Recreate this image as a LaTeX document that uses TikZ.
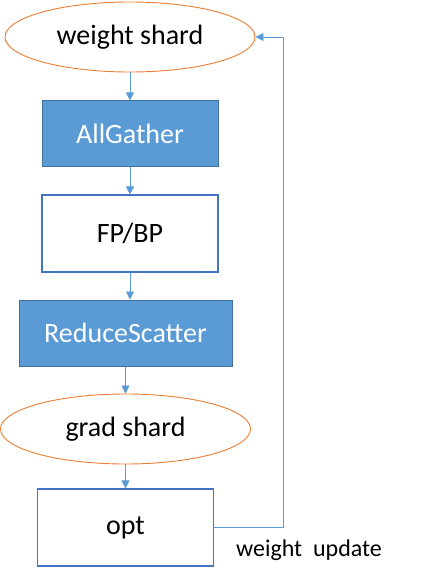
\documentclass[tikz,border=0pt]{standalone}
\usepackage{fontspec}
\setmainfont{Carlito}
\usepackage{xcolor}
\usetikzlibrary{arrows.meta, positioning, shapes.geometric, calc}

\definecolor{boxblue}{HTML}{5B9BD5}
\definecolor{boxedge}{HTML}{41719C}
\definecolor{lineblue}{HTML}{4472C4}
\definecolor{shardorange}{HTML}{ED7D31}

\begin{document}
\begin{tikzpicture}[
    x=1pt, y=1pt,
    node distance=27pt,
    every node/.style={font=\fontsize{28}{32}\selectfont},
    shard/.style={ellipse, draw=shardorange, line width=0.9pt, minimum width=250pt, minimum height=70pt},
    comm/.style={rectangle, draw=boxedge, line width=1pt, fill=boxblue, text=white, minimum height=66pt},
    work/.style={rectangle, draw=lineblue, line width=1.1pt, fill=white, minimum width=176pt, minimum height=77pt},
    arr/.style={-{Triangle[length=8pt, width=8pt]}, draw=boxblue, line width=0.7pt}
]
\useasboundingbox (0,0) rectangle (429,-581);

\node[shard] (ws) at (130,-37) {weight shard};
\node[comm, minimum width=176pt, below=28pt of ws] (ag) {AllGather};
\node[work, below=of ag] (fpbp) {FP/BP};
\node[comm, minimum width=213pt, below=of fpbp, xshift=-4.5pt] (rs) {ReduceScatter};
\node[shard, below=of rs] (gs) {grad shard};
\node[work, below=24pt of gs] (opt) {opt};

\node[font=\fontsize{24}{28}\selectfont] (upd) at (309,-550) {weight\ \ update};

\draw[arr] (ws) -- (ag);
\draw[arr] (ag) -- (fpbp);
\draw[arr] (fpbp.south) -- (fpbp.south |- rs.north);
\draw[arr] (rs) -- (gs);
\draw[arr] (gs) -- (opt);

% feedback to the weight shard
\draw[arr] (opt.east) -- ++(69,0) |- (ws.east);

\end{tikzpicture}
\end{document}
